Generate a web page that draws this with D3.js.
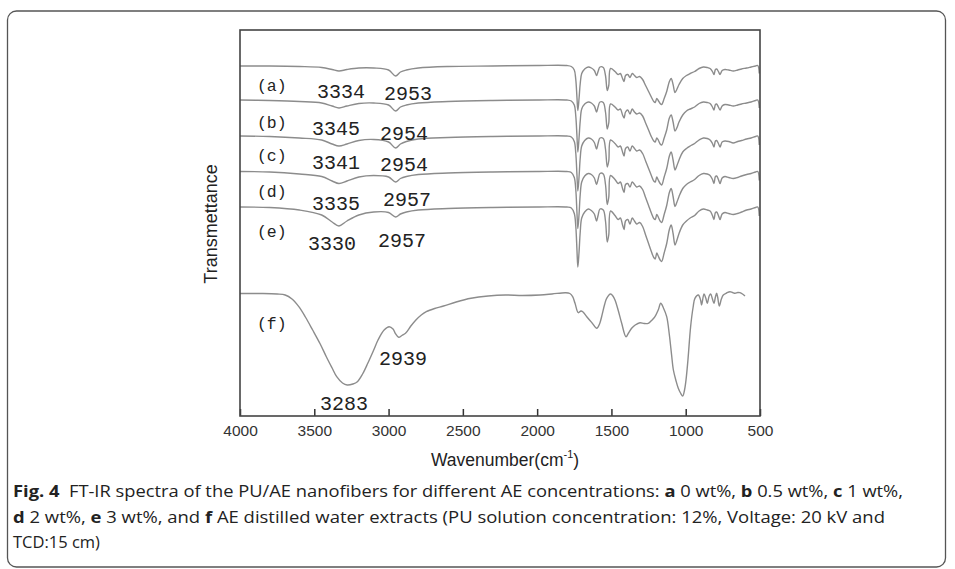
<!DOCTYPE html>
<html>
<head>
<meta charset="utf-8">
<script src="https://cdn.jsdelivr.net/npm/d3@7"></script>
<style>
body { margin: 0; background: #fff; }
svg { display: block; }
</style>
</head>
<body>
<svg id="chart" width="955" height="569"></svg>
<script>
// wavenumbers (cm-1) shared by the PU/AE spectra a-e
var puWavenumber = [4000, 3800, 3600, 3450, 3380, 3334, 3280, 3200, 3100, 3000, 2953, 2920, 2880, 2800, 2600, 2300, 2000, 1800, 1770, 1750,
    1740, 1732, 1726, 1718, 1710, 1700, 1680, 1656, 1635, 1615, 1600, 1590, 1577, 1555, 1540, 1528, 1518, 1506, 1476, 1455,
    1440, 1425, 1415, 1405, 1390, 1375, 1360, 1345, 1330, 1310, 1290, 1270, 1250, 1230, 1215, 1205, 1195, 1185, 1172, 1162,
    1145, 1128, 1110, 1098, 1085, 1072, 1060, 1045, 1020, 995, 970, 940, 910, 881, 855, 836, 820, 810, 800, 792,
    780, 769, 755, 736, 710, 680, 650, 624, 590, 560, 530, 515, 505];

// transmittance (arbitrary units, stacked as plotted)
var specA = [350, 350, 349.5, 348.5, 346.5, 345, 346.5, 348, 348, 346, 340, 344, 346, 348, 349.5, 350, 350.5, 350.5, 349.5, 346,
    336.5, 318.5, 305.5, 317.5, 332.5, 342.5, 347, 349, 348, 345.5, 340.5, 344.5, 349, 348.5, 340.5, 325.5, 330.5, 347.5, 344.5, 341.5,
    342.5, 337.5, 334.5, 340.5, 341.5, 338.5, 342.5, 340.5, 338.5, 339.5, 336.5, 330.5, 324.5, 318.5, 314.5, 313.5, 317.5, 315.5, 312.5, 311.5,
    317.5, 324.5, 334.5, 337.5, 331.5, 323.5, 326.5, 331.5, 337.5, 340.5, 342.5, 344.5, 347.5, 349, 348.5, 347.5, 344.5, 341.5, 346.5, 347,
    344.5, 341.5, 345.5, 346.5, 346, 345, 346, 347, 348, 349, 350, 350.5, 342.5];
var specB = [316, 315.5, 314.5, 313, 310, 308, 310, 312.5, 313, 311, 305, 309, 311, 313, 314.5, 315.5, 316, 316, 315, 311,
    300, 280, 264, 278, 295, 307, 312, 314, 313, 310, 304, 309, 314, 313.5, 304, 287, 293, 312, 309, 306,
    307, 301, 298, 304, 306, 302, 307, 304, 302, 303, 300, 293, 286, 279, 275, 274, 278, 276, 272, 271,
    278, 286, 298, 301, 294, 285, 288, 294, 301, 305, 307, 309, 312.5, 314, 313.5, 312.5, 309, 306, 311.5, 312,
    309, 306, 310, 311.5, 311, 310, 311, 312, 313, 314, 315.5, 316, 308];
var specC = [280, 279.5, 278, 276, 272, 270, 272, 275.5, 276.5, 274, 268, 272, 274.5, 277, 278.5, 279.5, 280, 280, 279, 274.5,
    263, 241, 225, 239, 258, 270, 275.5, 278, 277, 273.5, 267, 272.5, 278, 277.5, 267, 249, 255, 276, 272.5, 269,
    270, 264, 260, 267.5, 269, 265, 270, 267.5, 265, 266, 262.5, 255, 247.5, 240, 235, 234, 239, 236, 232.5, 231,
    239, 247.5, 260, 264, 256, 246, 250, 256, 264, 267.5, 270, 272.5, 276, 278, 277.5, 276, 272.5, 269, 275, 275.5,
    272.5, 269, 274, 275, 274.5, 273, 274.5, 275.5, 277, 278, 279.5, 280, 271];
var specD = [244.5, 244, 242, 239.5, 235, 232.5, 235, 239, 240.5, 239, 234, 237.5, 239.5, 241.5, 243, 244, 244.5, 244.5, 243.5, 238.5,
    226.5, 203.5, 187.5, 201.5, 221.5, 234, 240, 242.5, 241.5, 238, 231.5, 236.5, 242.5, 242, 231.5, 211.5, 218.5, 240.5, 236.5, 232.5,
    234, 227.5, 223.5, 231.5, 232.5, 229, 234, 231.5, 229, 230, 226.5, 218.5, 210.5, 202.5, 197.5, 196.5, 201.5, 199, 195, 193.5,
    201.5, 210.5, 223.5, 227.5, 219.5, 209.5, 213.5, 219.5, 227.5, 231.5, 234, 236.5, 240.5, 242.5, 242, 240.5, 236.5, 232.5, 239.5, 240,
    236.5, 232.5, 238, 239.5, 238.5, 237.5, 238.5, 240, 241.5, 242.5, 244, 244.5, 235.5];
var specE = [209, 208.5, 206, 201, 194, 190, 195, 201, 204, 203.5, 199, 202, 204, 206, 207.5, 208.5, 209, 209, 208, 202.5,
    190, 166, 149, 164, 184, 198, 204, 207, 205.5, 202, 195, 200.5, 207, 206, 195, 174, 181, 205, 200.5, 196.5,
    198, 191, 186.5, 195, 196.5, 192, 198, 195, 192, 193.5, 189.5, 181, 172.5, 164, 158.5, 157, 163, 160, 156, 154.5,
    163, 172.5, 186.5, 191, 182.5, 171, 175.5, 182.5, 191, 195, 198, 200.5, 205, 207, 206, 205, 200.5, 196.5, 203.5, 204,
    200.5, 196.5, 202, 203.5, 202.5, 201.5, 202.5, 204, 206, 207, 208.5, 209, 200];

// AE distilled water extract (f)
var aeWavenumber = [4000, 3850, 3750, 3696, 3650, 3604, 3560, 3511, 3460, 3419, 3380, 3349, 3310, 3279, 3240, 3210, 3175, 3140, 3100, 3071,
    3030, 2996, 2970, 2955, 2932, 2910, 2886, 2850, 2816, 2780, 2746, 2690, 2630, 2545, 2445, 2330, 2213, 2100, 1981, 1900,
    1808, 1780, 1761, 1745, 1723, 1705, 1693, 1666, 1630, 1599, 1580, 1566, 1545, 1532, 1506, 1490, 1476, 1455, 1431, 1402,
    1385, 1364, 1340, 1308, 1280, 1252, 1230, 1207, 1185, 1168, 1150, 1128, 1110, 1095, 1083, 1065, 1050, 1035, 1020, 1008,
    998, 985, 967, 950, 938, 915, 900, 893, 877, 865, 855, 842, 832, 820, 810, 800, 792, 785, 774, 760,
    747, 725, 702, 685, 668, 650, 635, 618, 601];
var specF = [122.5, 122.5, 122, 121, 117, 109.3, 99, 86, 72, 59.3, 48, 39.3, 33, 31, 32, 34.3, 42, 52.7, 66, 76,
    86, 89.3, 87, 82.7, 78.7, 80.5, 82.7, 90, 96, 101, 104.3, 107.5, 110, 114, 117.7, 120, 121, 120.5, 121, 122,
    123.3, 122.5, 119.3, 112.7, 103.3, 105, 104.3, 99.3, 93, 87.7, 92, 99.3, 112, 117.7, 122, 120, 116, 106, 92.7, 79.3,
    83, 87.7, 91, 93.3, 92.5, 92.7, 95.5, 99.3, 106, 112.7, 108, 99.3, 81, 61, 46, 35, 27.7, 23, 20, 26,
    36, 56, 89.3, 109, 117.7, 121, 116, 111, 122, 118, 112.7, 120, 122, 117, 112.7, 119, 122.7, 119, 110, 117,
    121, 123, 124.3, 123.5, 122.7, 123.5, 123.3, 122, 120];

// curve labels
var curveNames = ["(a)", "(b)", "(c)", "(d)", "(e)", "(f)"];
var curveNameWn = [3886, 3886, 3886, 3886, 3886, 3886];
var curveNameT = [331, 294, 261, 225, 185, 93];

// peak annotations
var peakText = ["3334", "2953", "3345", "2954", "3341", "2954", "3335", "2957", "3330", "2957", "2939", "3283"];
var peakWn = [3482, 3031, 3515, 3058, 3515, 3058, 3515, 3038, 3542, 3071, 3064, 3462];
var peakT = [325, 323, 288, 283, 254, 252, 213, 217, 173, 176, 58, 13];

var xTicks = [4000, 3500, 3000, 2500, 2000, 1500, 1000, 500];

var spectra = [
    {wn: puWavenumber, t: specA},
    {wn: puWavenumber, t: specB},
    {wn: puWavenumber, t: specC},
    {wn: puWavenumber, t: specD},
    {wn: puWavenumber, t: specE},
    {wn: aeWavenumber, t: specF}
];

var svg = d3.select("#chart");

// outer figure box
svg.append("rect")
    .attr("x", 7.5).attr("y", 11)
    .attr("width", 938).attr("height", 556)
    .attr("rx", 9)
    .attr("fill", "none")
    .attr("stroke", "#555")
    .attr("stroke-width", 1.3);

var margin = {top: 30, left: 240};
var width = 520, height = 386;

var x = d3.scaleLinear().domain([4000, 500]).range([0, width]);
var y = d3.scaleLinear().domain([0, 386]).range([height, 0]);

var g = svg.append("g")
    .attr("transform", "translate(" + margin.left + "," + margin.top + ")");

var line = d3.line()
    .x(function(d) { return x(d[0]); })
    .y(function(d) { return y(d[1]); })
    .curve(d3.curveCatmullRom.alpha(0.5));

g.selectAll(".spec")
    .data(spectra)
    .enter().append("path")
    .attr("class", "spec")
    .attr("fill", "none")
    .attr("stroke", "#8c8c8c")
    .attr("stroke-width", 1.4)
    .attr("d", function(s) {
        return line(s.wn.map(function(w, i) { return [w, s.t[i]]; }));
    });

// bottom axis with inward ticks
var xAxis = g.append("g")
    .attr("transform", "translate(0," + height + ")")
    .call(d3.axisBottom(x).tickValues(xTicks).tickSizeInner(-7).tickSizeOuter(0).tickPadding(10).tickFormat(d3.format("d")));
xAxis.select(".domain").remove();
xAxis.selectAll(".tick line").attr("stroke", "#333").attr("stroke-width", 1.5);
xAxis.selectAll(".tick text")
    .attr("font-family", "'Liberation Sans', Arial, sans-serif")
    .attr("font-size", 15.5)
    .attr("fill", "#333")
    .attr("dy", "0.62em");

// plot frame
g.append("rect")
    .attr("width", width).attr("height", height)
    .attr("fill", "none")
    .attr("stroke", "#444")
    .attr("stroke-width", 1.6);

g.selectAll(".cname")
    .data(curveNames)
    .enter().append("text")
    .attr("class", "cname")
    .attr("x", function(d, i) { return x(curveNameWn[i]); })
    .attr("y", function(d, i) { return y(curveNameT[i]); })
    .attr("dy", "0.35em")
    .attr("font-family", "'Liberation Mono', 'Courier New', monospace")
    .attr("font-size", 16.5)
    .attr("fill", "#222")
    .text(function(d) { return d; });

g.selectAll(".peak")
    .data(peakText)
    .enter().append("text")
    .attr("class", "peak")
    .attr("x", function(d, i) { return x(peakWn[i]); })
    .attr("y", function(d, i) { return y(peakT[i]); })
    .attr("dy", "0.35em")
    .attr("font-family", "'Liberation Mono', 'Courier New', monospace")
    .attr("font-size", 20)
    .attr("fill", "#222")
    .text(function(d) { return d; });

// axis titles
var xTitle = g.append("text")
    .attr("x", 265)
    .attr("y", height + 50)
    .attr("text-anchor", "middle")
    .attr("font-family", "'Liberation Sans', Arial, sans-serif")
    .attr("font-size", 17.5)
    .attr("fill", "#222");
xTitle.append("tspan").text("Wavenumber(cm");
xTitle.append("tspan").attr("font-size", 11).attr("dy", -8).text("-1");
xTitle.append("tspan").attr("dy", 8).text(")");

g.append("text")
    .attr("transform", "translate(-23," + 194 + ") rotate(-90)")
    .attr("text-anchor", "middle")
    .attr("font-family", "'Liberation Sans', Arial, sans-serif")
    .attr("font-size", 18)
    .attr("fill", "#222")
    .text("Transmettance");

// caption
var captionLines = [
    [["Fig. 4", 1], ["  FT-IR spectra of the PU/AE nanofibers for different AE concentrations: ", 0], ["a", 1], [" 0 wt%, ", 0],
     ["b", 1], [" 0.5 wt%, ", 0], ["c", 1], [" 1 wt%,", 0]],
    [["d", 1], [" 2 wt%, ", 0], ["e", 1], [" 3 wt%, and ", 0], ["f", 1],
     [" AE distilled water extracts (PU solution concentration: 12%, Voltage: 20 kV and", 0]],
    [["TCD:15 cm)", 0]]
];
var captionBase = [497, 523, 548];
var captionWidth = [890, 872, 0];

var cap = svg.selectAll(".cap")
    .data(captionLines)
    .enter().append("text")
    .attr("class", "cap")
    .attr("x", 13)
    .attr("y", function(d, i) { return captionBase[i]; })
    .attr("font-family", "'Open Sans', 'Noto Sans', sans-serif")
    .attr("font-size", 16.5)
    .attr("fill", "#222")
    .style("white-space", "pre");
cap.selectAll("tspan")
    .data(function(d) { return d; })
    .enter().append("tspan")
    .attr("font-weight", function(d) { return d[1] ? "bold" : "normal"; })
    .text(function(d) { return d[0]; });

// squeeze the long caption lines to the reference widths (narrower face in the original)
cap.filter(function(d, i) { return captionWidth[i] > 0; })
    .attr("textLength", function(d, i) { return captionWidth[i]; })
    .attr("lengthAdjust", "spacingAndGlyphs");
</script>
</body>
</html>
